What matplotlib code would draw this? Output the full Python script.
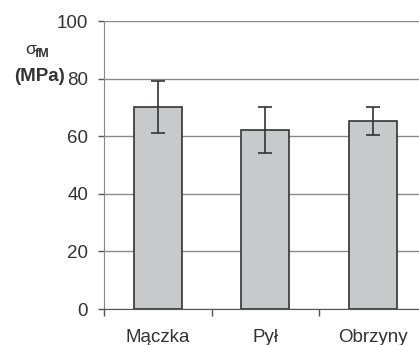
import numpy as np
import matplotlib.pyplot as plt

plt.rcParams['font.family'] = ['Liberation Sans', 'DejaVu Sans']

# dane
categories = ['Mączka', 'Pył', 'Obrzyny']
values = [70.0, 62.0, 65.3]
errors = [9.0, 8.0, 4.8]
yticks = [0, 20, 40, 60, 80, 100]

W, H = 419, 345
fig = plt.figure(figsize=(W / 100, H / 100), dpi=100)
# os wykracza poza prawą krawędź obrazka (jak w oryginale)
ax = fig.add_axes([104 / W, 36 / H, 322.5 / W, 288 / H])

x = np.arange(len(categories))
ax.bar(x, values, width=0.45, color='#c8c9cb', edgecolor='#333333',
       linewidth=1.2, zorder=3)
ax.errorbar(x, values, yerr=errors, fmt='none', ecolor='#333333',
            elinewidth=1.2, capsize=5, capthick=1.2, zorder=4)

ax.set_xlim(-0.5, 2.5)
ax.set_ylim(0, 100)
ax.set_yticks(yticks)
ax.yaxis.grid(True, color='#8a8a8a', linewidth=1, zorder=0)

# znaczniki osi X między kategoriami, etykiety pod słupkami
ax.set_xticks([-0.5, 0.5, 1.5, 2.5])
ax.set_xticklabels([])
ax.set_xticks(x, minor=True)
ax.set_xticklabels(categories, minor=True)
ax.tick_params(axis='x', which='major', length=5, color='#555555', width=1)
ax.tick_params(axis='x', which='minor', length=0, pad=14.5,
               labelsize=13.5, labelcolor='#333333')
ax.tick_params(axis='y', length=4.5, color='#555555', width=1,
               labelsize=13.5, labelcolor='#333333', pad=7)

for s in ['top', 'right']:
    ax.spines[s].set_visible(False)
ax.spines['left'].set_color('#888888')
ax.spines['bottom'].set_color('#555555')

# opis osi Y
fig.text(30.5 / W, 1 - 49 / H, 'σ', fontsize=12.5, color='#333333',
         ha='center', va='center')
fig.text(35 / W, 1 - 54 / H, 'fM', fontsize=9, fontweight='bold',
         color='#333333', ha='left', va='center')
fig.text(39 / W, 1 - 76.5 / H, '(MPa)', fontsize=13.5, fontweight='bold',
         color='#333333', ha='center', va='center')

fig.savefig('out.png', dpi=100)
